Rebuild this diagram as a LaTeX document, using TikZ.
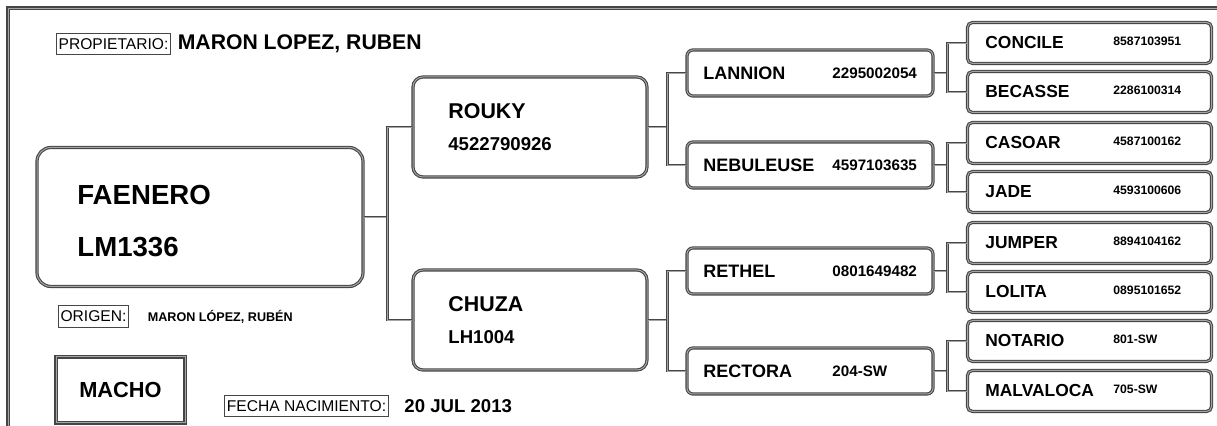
\documentclass[tikz,border=0pt]{standalone}
\usepackage{fontspec}
\setmainfont{Liberation Sans}
\usepackage{xcolor}
\definecolor{framegray}{RGB}{70, 70, 70}
\definecolor{gapgray}{RGB}{165, 165, 165}
\usepackage{tikz}
\usetikzlibrary{positioning, calc}
\newcommand{\fs}[1]{\fontsize{#1}{#1}\selectfont}

\begin{document}
\begin{tikzpicture}[x=0.5pt, y=-0.5pt,
    horsebox/.style={draw=framegray, double=gapgray, line width=0.55pt, double distance=0.5pt, inner sep=0pt},
    link/.style={draw=framegray, double=gapgray, line width=0.5pt, double distance=0.45pt},
    tagbox/.style={draw=framegray, line width=0.6pt, inner xsep=1.2pt, inner ysep=2.6pt, font=\fs{7.8}},
    txt/.style={anchor=west, inner sep=0pt}]
    \useasboundingbox (0,0) rectangle (1217,426);

    % Page frame (only top and left edges are in view)
    \draw[link, line width=0.6pt] (1217,8) -- (8,8) -- (8,426);

    % Owner
    \node[tagbox] (owner-tag) at (113.5,44) {PROPIETARIO:};
    \node[txt, font=\bfseries\fs{10.6}, right=3pt of owner-tag] (owner) {MARON LOPEZ, RUBEN};

    % The dog itself
    \node[horsebox, rounded corners=7pt, minimum width=163pt, minimum height=69.5pt] (faenero) at (200,217) {};
    \node[txt, font=\bfseries\fs{13.8}] (faenero-name) at (77,195) {FAENERO};
    \node[txt, font=\bfseries\fs{13.8}] (faenero-id) at (77,247) {LM1336};

    % Origin, sex and birth date
    \node[tagbox] (origin-tag) at (93.5,316.5) {ORIGEN:};
    \node[txt, font=\bfseries\fs{6.3}, right=9pt of origin-tag] (origin) {MARON LÓPEZ, RUBÉN};
    \node[horsebox, minimum width=64.5pt, minimum height=33pt, font=\bfseries\fs{10.9}] (sex) at (120.5,390) {MACHO};
    \node[tagbox] (birth-tag) at (306.5,406) {FECHA NACIMIENTO:};
    \node[txt, font=\bfseries\fs{9.3}, right=7.5pt of birth-tag] (birth) {20 JUL 2013};

    % Parents
    \foreach \n/\y/\name/\num in {rouky/127/ROUKY/4522790926, chuza/320/CHUZA/LH1004} {
        \node[horsebox, rounded corners=5pt, minimum width=117pt, minimum height=50pt] (\n) at (530,\y) {};
        \node[txt, font=\bfseries\fs{10.7}] (\n-name) at (448,{\y-16}) {\name};
        \node[txt, font=\bfseries\fs{9.3}] (\n-id) at (448,{\y+17}) {\num};
    }

    % Grandparents
    \foreach \n/\y/\name/\num in {lannion/73/LANNION/2295002054, nebuleuse/165/NEBULEUSE/4597103635,
                                  rethel/271/RETHEL/0801649482, rectora/371/RECTORA/204-SW} {
        \node[horsebox, rounded corners=3pt, minimum width=123pt, minimum height=23pt] (\n) at (810,\y) {};
        \node[txt, font=\bfseries\fs{9}] (\n-name) at (703,\y) {\name};
        \node[txt, font=\bfseries\fs{7.6}] (\n-id) at (832,\y) {\num};
    }

    % Great-grandparents
    \foreach \n/\y/\name/\num in {concile/43/CONCILE/8587103951, becasse/92/BECASSE/2286100314,
                                  casoar/143/CASOAR/4587100162, jade/192/JADE/4593100606,
                                  jumper/243/JUMPER/8894104162, lolita/292/LOLITA/0895101652,
                                  notario/341/NOTARIO/801-SW, malvaloca/391/MALVALOCA/705-SW} {
        \node[horsebox, rounded corners=2.5pt, minimum width=122pt, minimum height=20.5pt] (\n) at (1089.5,\y) {};
        \node[txt, font=\bfseries\fs{8.7}] (\n-name) at (985,\y) {\name};
        \node[txt, font=\bfseries\fs{6.1}] (\n-id) at (1113,{\y-1.5}) {\num};
    }

    % Pedigree links: child -> fork -> sire / dam
    \foreach \p/\a/\b/\d in {faenero/rouky/chuza/24, rouky/lannion/nebuleuse/20, chuza/rethel/rectora/20,
                             lannion/concile/becasse/14, nebuleuse/casoar/jade/14,
                             rethel/jumper/lolita/14, rectora/notario/malvaloca/14} {
        \draw[link] (\p.east) -- ++(\d,0) coordinate (\p-fork);
        \draw[link] (\a.west) -| (\p-fork) |- (\b.west);
    }

\end{tikzpicture}
\end{document}
